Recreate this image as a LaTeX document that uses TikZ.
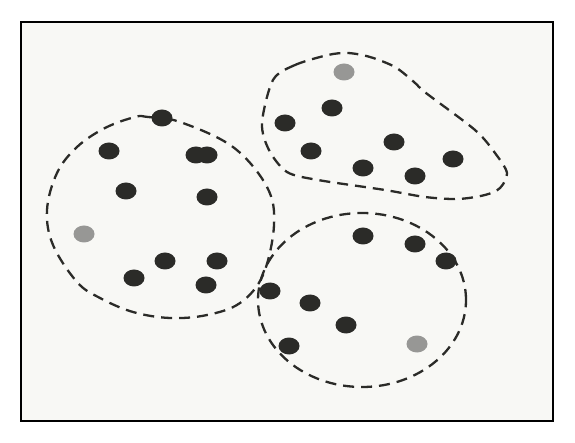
\documentclass[tikz,border=0pt]{standalone}
\usetikzlibrary{shapes.geometric}
\definecolor{paper}{HTML}{F8F8F5}
\definecolor{ink}{HTML}{2B2B28}
\definecolor{ash}{HTML}{979795}
\begin{document}
\begin{tikzpicture}[x=1pt,y=-1pt,dot/.style={ellipse,fill=ink,minimum width=21pt,minimum height=17pt,inner sep=0pt,outer sep=0pt},grey/.style={dot,fill=ash},hull/.style={draw=ink,line width=2.3pt,dash pattern=on 11pt off 7pt}]
        \useasboundingbox (0,0) rectangle (575,443);
        \draw[line width=2.4pt,fill=paper] (21,22) rectangle (553,421);
        %
        \draw[hull] plot[smooth cycle,tension=0.6] coordinates {(135,117) (148,117) (180,122) (233,147) (267,187) (274,225) (263,275) (240,303) (207,315) (170,318) (133,312) (100,298) (77,282) (53,245) (47,210) (57,173) (77,147) (105,128)};
        \draw[hull] plot[smooth cycle] coordinates {(273,80) (295,65) (328,55) (348,53) (370,57) (395,67) (414,82) (426,93) (475,130) (495,153) (507,173) (500,188) (485,195) (458,199) (425,197) (385,190) (318,180) (287,172) (269,150) (262,123)};
        \draw[hull] (362,300) ellipse [x radius=104pt,y radius=87pt];
        %
        \node[dot](a) at (162,118){};
        \node[dot](b) at (109,151){};
        \node[dot](c) at (196,155){};
        \node[dot](d) at (207,155){};
        \node[dot](e) at (126,191){};
        \node[dot](f) at (207,197){};
        \node[grey](g) at (84,234){};
        \node[dot](h) at (165,261){};
        \node[dot](i) at (217,261){};
        \node[dot](j) at (134,278){};
        \node[dot](k) at (206,285){};
        %
        \node[grey](m) at (344,72){};
        \node[dot](n) at (332,108){};
        \node[dot](o) at (285,123){};
        \node[dot](p) at (311,151){};
        \node[dot](q) at (394,142){};
        \node[dot](r) at (453,159){};
        \node[dot](s) at (363,168){};
        \node[dot](t) at (415,176){};
        %
        \node[dot](u) at (363,236){};
        \node[dot](v) at (415,244){};
        \node[dot](w) at (446,261){};
        \node[dot](x) at (270,291){};
        \node[dot](y) at (310,303){};
        \node[dot](z) at (346,325){};
        \node[dot](zz) at (289,346){};
        \node[grey](gg) at (417,344){};
\end{tikzpicture}
\end{document}
